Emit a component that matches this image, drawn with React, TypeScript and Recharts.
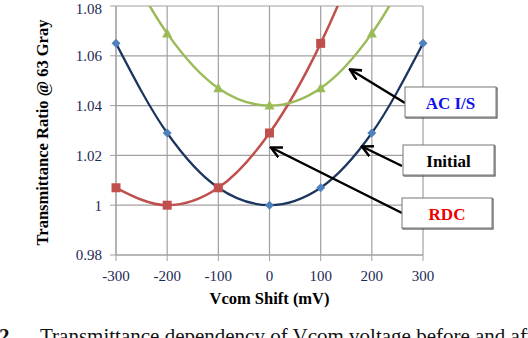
import { LineChart, Line, XAxis, YAxis, CartesianGrid } from 'recharts';

const vcomShift = [-300, -200, -100, 0, 100, 200, 300];
const initialRatio = [1.065, 1.029, 1.007, 1.0, 1.007, 1.029, 1.065];
const rdcRatio = [1.007, 1.0, 1.007, 1.029, 1.065, 1.115, 1.18];
const acisRatio = [1.105, 1.069, 1.047, 1.04, 1.047, 1.069, 1.105];
const yTicks = [0.98, 1.0, 1.02, 1.04, 1.06, 1.08];

const toRows = (values: number[]) => vcomShift.map((x, i) => ({ x, y: values[i] }));

const initialData = toRows(initialRatio);
const rdcData = toRows(rdcRatio);
const acisData = toRows(acisRatio);

const serif = 'Liberation Serif';
const gridGray = '#a0a0a0';
const tickColor = '#1c2a55';

const Diamond = (props: any) => {
  const { cx, cy } = props;
  if (cx == null || cy == null) return null;
  return <path d={`M${cx},${cy - 4.5}L${cx + 4.5},${cy}L${cx},${cy + 4.5}L${cx - 4.5},${cy}Z`} fill="#4F81BD" />;
};

const Square = (props: any) => {
  const { cx, cy } = props;
  if (cx == null || cy == null) return null;
  return <rect x={cx - 4.5} y={cy - 4.5} width={9} height={9} fill="#C0504D" />;
};

const Triangle = (props: any) => {
  const { cx, cy } = props;
  if (cx == null || cy == null) return null;
  return <path d={`M${cx},${cy - 5.5}L${cx + 5},${cy + 4}L${cx - 5},${cy + 4}Z`} fill="#9BBB59" />;
};

const YLabel = (props: any) => {
  const { viewBox } = props;
  const cx = 42;
  const cy = viewBox.y + viewBox.height / 2 + 2;
  return (
    <text x={cx} y={cy} transform={`rotate(-90 ${cx} ${cy})`} textAnchor="middle" dominantBaseline="central"
      style={{ fontFamily: serif, fontWeight: 'bold', fontSize: 16.5 }} fill="#000">
      Transmittance Ratio @ 63 Gray
    </text>
  );
};

const XLabel = (props: any) => {
  const { viewBox } = props;
  return (
    <text x={viewBox.x + viewBox.width / 2} y={298} textAnchor="middle" dominantBaseline="central"
      style={{ fontFamily: serif, fontWeight: 'bold', fontSize: 16.5 }} fill="#000">
      Vcom Shift (mV)
    </text>
  );
};

// callout box with an arrow pointing at a curve
function Callout({ x, y, w, label, color, tail, head }: any) {
  return (
    <g>
      <line x1={tail[0]} y1={tail[1]} x2={head[0]} y2={head[1]} stroke="#000" strokeWidth={2.5} markerEnd="url(#arrow)" />
      <rect x={x + 1} y={y + 1} width={w} height={30} fill="none" stroke="#333" strokeWidth={1} />
      <rect x={x} y={y} width={w} height={30} fill="#fff" stroke="#777" strokeWidth={1} />
      <text x={x + w / 2} y={y + 16} textAnchor="middle" dominantBaseline="central"
        style={{ fontFamily: serif, fontWeight: 'bold', fontSize: 17 }} fill={color}>
        {label}
      </text>
    </g>
  );
}

export default function App() {
  return (
    <div style={{ position: 'absolute', left: 0, top: 0, width: 528, height: 338, background: '#fff', overflow: 'hidden', fontFamily: serif }}>
      <LineChart width={528} height={338} margin={{ top: 6, right: 105, left: 5, bottom: 33 }} style={{ fontFamily: serif }}>
        <CartesianGrid stroke={gridGray} strokeWidth={1.2} />
        <XAxis
          type="number"
          dataKey="x"
          domain={[-300, 300]}
          ticks={vcomShift}
          height={50}
          stroke={gridGray}
          tickSize={6}
          tickMargin={9}
          tick={{ fill: tickColor, fontFamily: serif, fontSize: 15 }}
          label={<XLabel />}
        />
        <YAxis
          type="number"
          dataKey="y"
          domain={[0.98, 1.08]}
          ticks={yTicks}
          allowDataOverflow
          width={111}
          stroke={gridGray}
          tickSize={6}
          tickMargin={8}
          tickFormatter={(v: number) => (v === 1 ? '1' : v.toFixed(2))}
          tick={{ fill: tickColor, fontFamily: serif, fontSize: 15 }}
          label={<YLabel />}
        />
        <Line data={initialData} dataKey="y" type="monotone" stroke="#1B355F" strokeWidth={2.2} dot={<Diamond />} isAnimationActive={false} />
        <Line data={rdcData} dataKey="y" type="monotone" stroke="#C0504D" strokeWidth={2.5} dot={<Square />} isAnimationActive={false} />
        <Line data={acisData} dataKey="y" type="monotone" stroke="#9BBB59" strokeWidth={2.5} dot={<Triangle />} isAnimationActive={false} />
      </LineChart>
      <svg width={528} height={338} style={{ position: 'absolute', left: 0, top: 0, pointerEvents: 'none' }}>
        <defs>
          <marker id="arrow" viewBox="0 0 10 10" refX="8" refY="5" markerWidth="5" markerHeight="5" orient="auto">
            <path d="M0,0.5L9,5L0,9.5" fill="none" stroke="#000" strokeWidth={2} />
          </marker>
        </defs>
        <Callout x={405} y={87} w={91} label="AC I/S" color="#1010ee" tail={[405, 103]} head={[351, 70]} />
        <Callout x={403} y={145} w={91} label="Initial" color="#000" tail={[402, 166]} head={[363, 147]} />
        <Callout x={402} y={198} w={90} label="RDC" color="#ee0000" tail={[402, 213]} head={[272, 148]} />
        <text x={-1} y={343} style={{ fontFamily: serif, fontSize: 21, fontWeight: 'bold' }} fill="#111">2</text>
        <text x={40} y={343} style={{ fontFamily: serif, fontSize: 21 }} fill="#111">Transmittance dependency of Vcom voltage before and after</text>
      </svg>
    </div>
  );
}
